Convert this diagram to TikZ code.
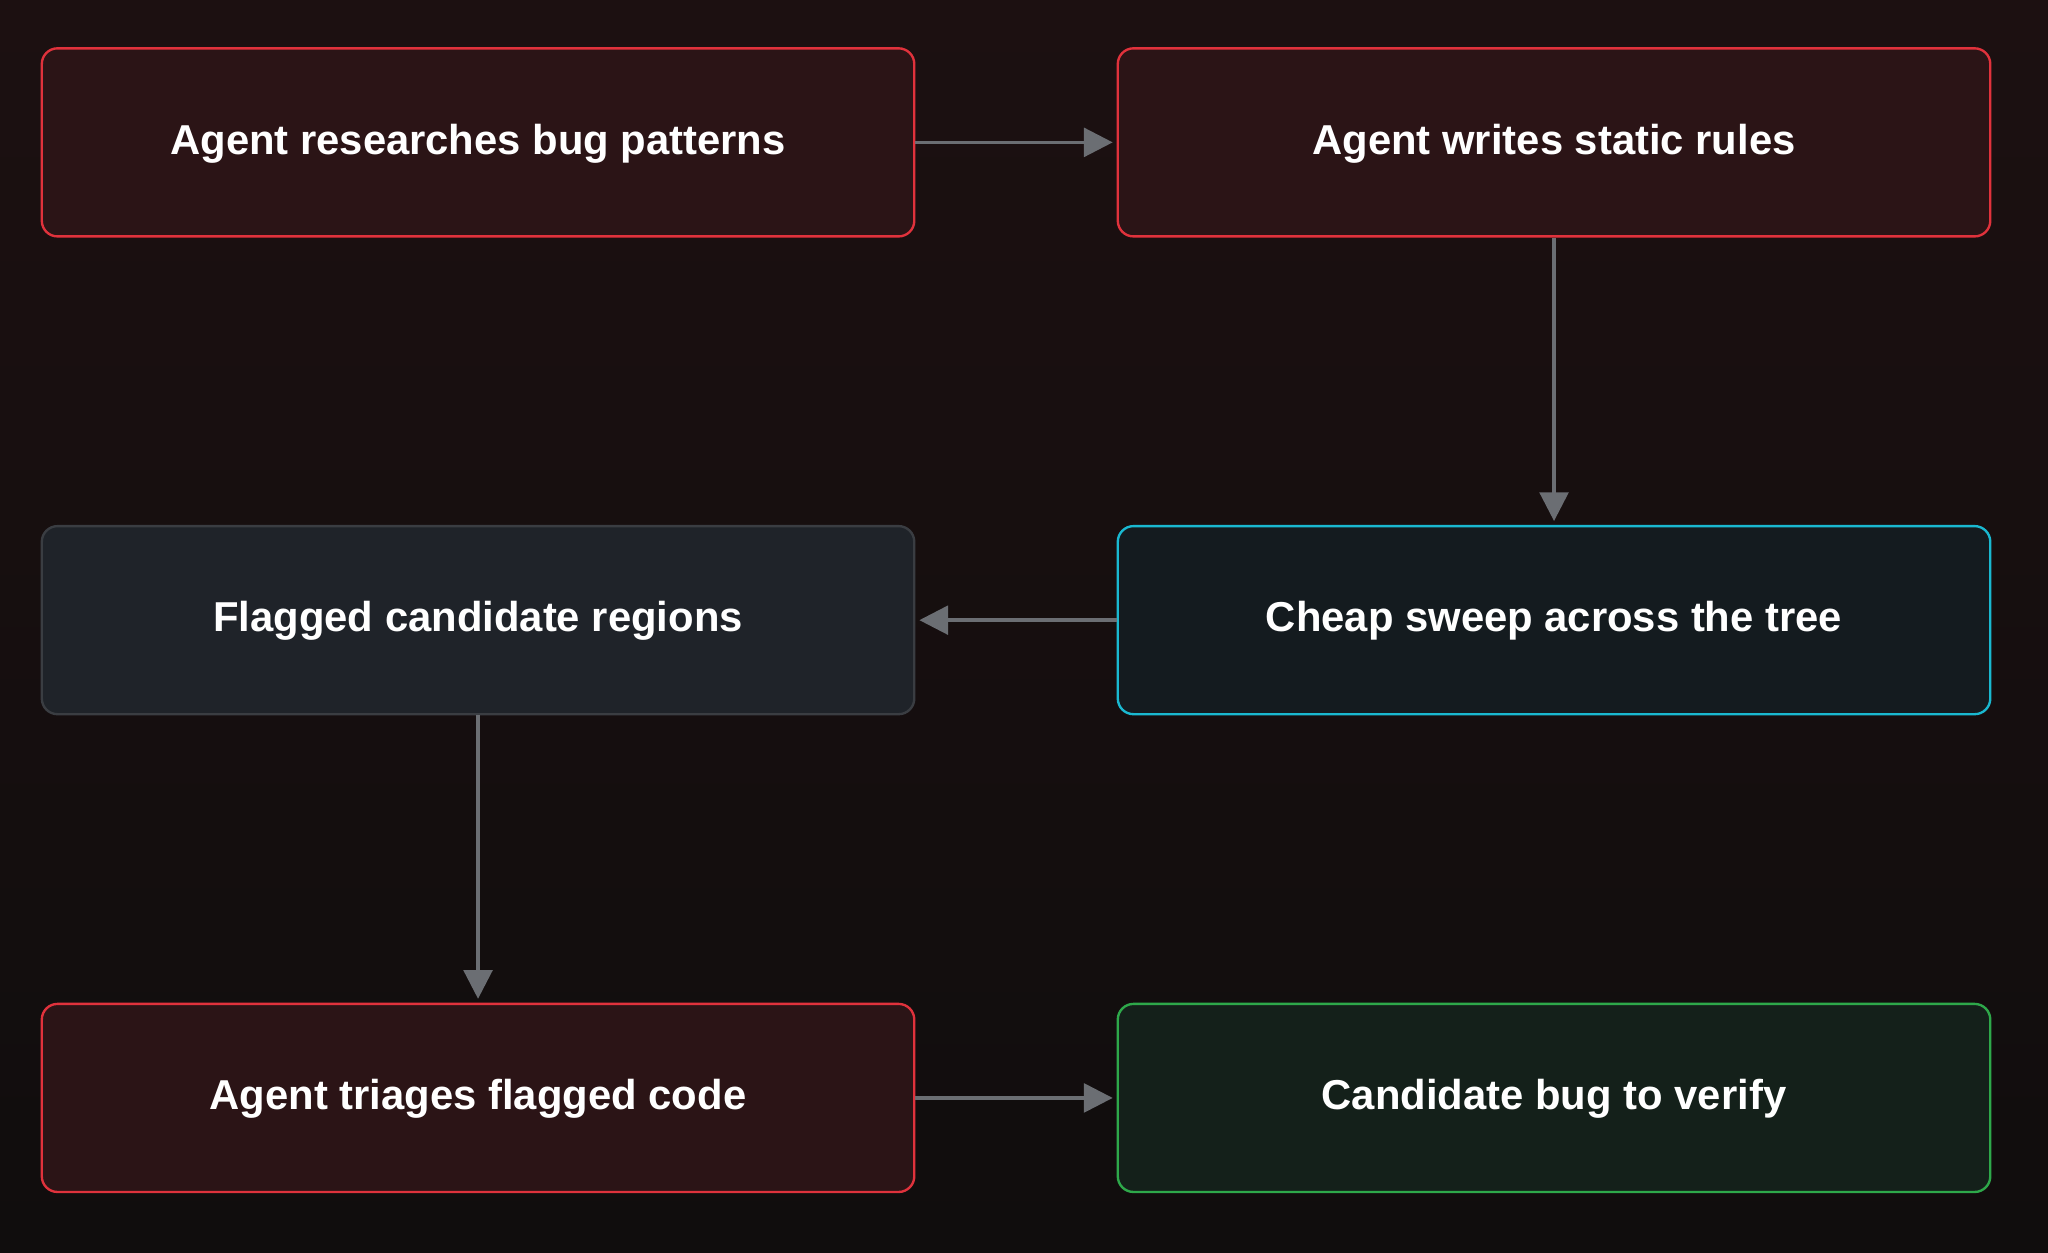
\documentclass[tikz,border=0pt]{standalone}
\usepackage{fontspec}
\setmainfont{Liberation Sans}
\usetikzlibrary{positioning,arrows.meta}
\definecolor{bgdark}{HTML}{100D0D}
\definecolor{bgred}{HTML}{1C1011}
\definecolor{redline}{HTML}{E0323C}
\definecolor{redfill}{HTML}{2B1416}
\definecolor{greyline}{HTML}{3A3D42}
\definecolor{greyfill}{HTML}{1F2329}
\definecolor{cyanline}{HTML}{1AB8D0}
\definecolor{cyanfill}{HTML}{141B1F}
\definecolor{greenline}{HTML}{2EA84A}
\definecolor{greenfill}{HTML}{14201A}
\definecolor{arrowgrey}{HTML}{6B6E73}

\begin{document}
\begin{tikzpicture}[
    x=1pt, y=1pt,
    Step/.style={
        rectangle,
        rounded corners=6pt,
        line width=0.9pt,
        minimum width=334pt,
        minimum height=72pt,
        text height=11pt,
        text depth=2pt,
        text=white,
        font=\fontsize{16}{19}\selectfont\bfseries
    },
    Agent/.style={draw=redline, fill=redfill},
    Flag/.style={draw=greyline, fill=greyfill},
    Sweep/.style={draw=cyanline, fill=cyanfill},
    Found/.style={draw=greenline, fill=greenfill},
    Flow/.style={
        draw=arrowgrey,
        line width=1.3pt,
        -{Triangle[length=11pt,width=11pt]},
        shorten >=1.5pt
    }
    ]
    \fill[top color=bgred, bottom color=bgdark] (0,0) rectangle (784,-479.5);
    \useasboundingbox (0,0) rectangle (784,-479.5);

    \node[Step,Agent] (research) at (183,-54.5) {Agent researches bug patterns};
    \node[Step,Agent] (rules) [right=77pt of research] {Agent writes static rules};
    \node[Step,Sweep] (sweep) [below=110pt of rules] {Cheap sweep across the tree};
    \node[Step,Flag] (flagged) [left=77pt of sweep] {Flagged candidate regions};
    \node[Step,Agent] (triage) [below=110pt of flagged] {Agent triages flagged code};
    \node[Step,Found] (verify) [right=77pt of triage] {Candidate bug to verify};

    \draw[Flow] (research) -- (rules);
    \draw[Flow] (rules) -- (sweep);
    \draw[Flow] (sweep) -- (flagged);
    \draw[Flow] (flagged) -- (triage);
    \draw[Flow] (triage) -- (verify);
\end{tikzpicture}
\end{document}
